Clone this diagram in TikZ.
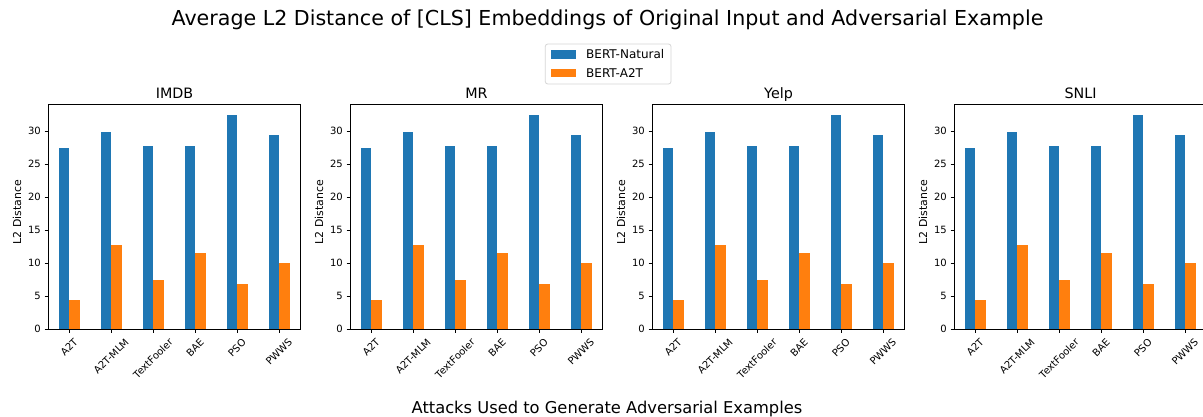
\documentclass[tikz,border=0pt]{standalone}
\usepackage{fontspec}
\setmainfont{DejaVu Sans}
\definecolor{natblue}{HTML}{1F77B4}
\definecolor{advorange}{HTML}{FF7F0E}
\definecolor{legendedge}{HTML}{D6D6D6}
\begin{document}
\begin{tikzpicture}[x=1bp,y=-1bp,
  spine/.style={draw=black,line width=0.8bp},
  tickmark/.style={draw=black,line width=0.8bp},
  ticklbl/.style={font=\fontsize{10bp}{12bp}\selectfont,inner sep=0pt},
  axlabel/.style={font=\fontsize{10.9bp}{13bp}\selectfont,inner sep=0pt},
  paneltitle/.style={font=\fontsize{14.3bp}{17bp}\selectfont,inner sep=0pt,anchor=base},
  figtitle/.style={font=\fontsize{20.6bp}{24bp}\selectfont,inner sep=0pt,anchor=base},
  figxlabel/.style={font=\fontsize{16.3bp}{19bp}\selectfont,inner sep=0pt,anchor=base},
  legtext/.style={font=\fontsize{12bp}{14bp}\selectfont,inner sep=0pt,anchor=base west},
  natbar/.style={fill=natblue},
  advbar/.style={fill=advorange}]
\useasboundingbox (0,0) rectangle (1203,416);
\fill[white] (0,0) rectangle (1203,416);
\begin{scope}
\clip (0,0) rectangle (1203,416);

% one panel per dataset: left edge of axes, title, short name
\foreach \L/\T/\n in {48/IMDB/imdb,350/MR/mr,652/Yelp/yelp,954/SNLI/snli}{
  % bars (value scale: 6.6 px per unit, zero line at 329.3)
  \foreach \i/\lab/\nat/\adv in {0/A2T/27.4/4.5,1/A2T-MLM/29.9/12.7,2/TextFooler/27.7/7.4,3/BAE/27.8/11.5,4/PSO/32.5/6.9,5/PWWS/29.5/10.1}{
    \pgfmathsetmacro\c{\L+21+42*\i}
    \fill[natbar] ({\c-10.5},329.3) rectangle (\c,{329.3-6.6*\nat});
    \fill[advbar] (\c,329.3) rectangle ({\c+10.5},{329.3-6.6*\adv});
    \draw[tickmark] (\c,329.3) -- (\c,332.8);
    % rotated label, its bounding box centred under the tick
    \node[ticklbl,anchor=north] (x-\n-\i) at (\c,337.5) {\rotatebox{45}{\lab}};
  }
  % y ticks
  \foreach \t in {0,5,...,30}{
    \draw[tickmark] ({\L-3.5},{329.3-6.6*\t}) -- (\L,{329.3-6.6*\t});
    \node[ticklbl,anchor=east] (y-\n-\t) at ({\L-7},{329.3-6.6*\t}) {\t};
  }
  % frame
  \draw[spine] (\L,104) rectangle ({\L+252},329.3);
  \node[paneltitle] (title-\n) at ({\L+126.5},98) {\T};
  \node[axlabel] (ylab-\n) at ({\L-31},212) {\rotatebox{90}{L2 Distance}};
}
\end{scope}

% figure title and shared x label
\node[figtitle] (suptitle) at (607.5,25) {Average L2 Distance of [CLS] Embeddings of Original Input and Adversarial Example};
\node[figxlabel] (xlabel) at (607,413) {Attacks Used to Generate Adversarial Examples};

% legend
\draw[legendedge,line width=0.8bp,rounded corners=2.5bp,fill=white] (545.3,44) rectangle (671,84);
\fill[natbar] (551,50.3) rectangle (576,58.7);
\fill[advbar] (551,69) rectangle (576,77.3);
\node[legtext] (leg-nat) at (586,58.9) {BERT-Natural};
\node[legtext] (leg-adv) at (586,77.5) {BERT-A2T};
\end{tikzpicture}
\end{document}
